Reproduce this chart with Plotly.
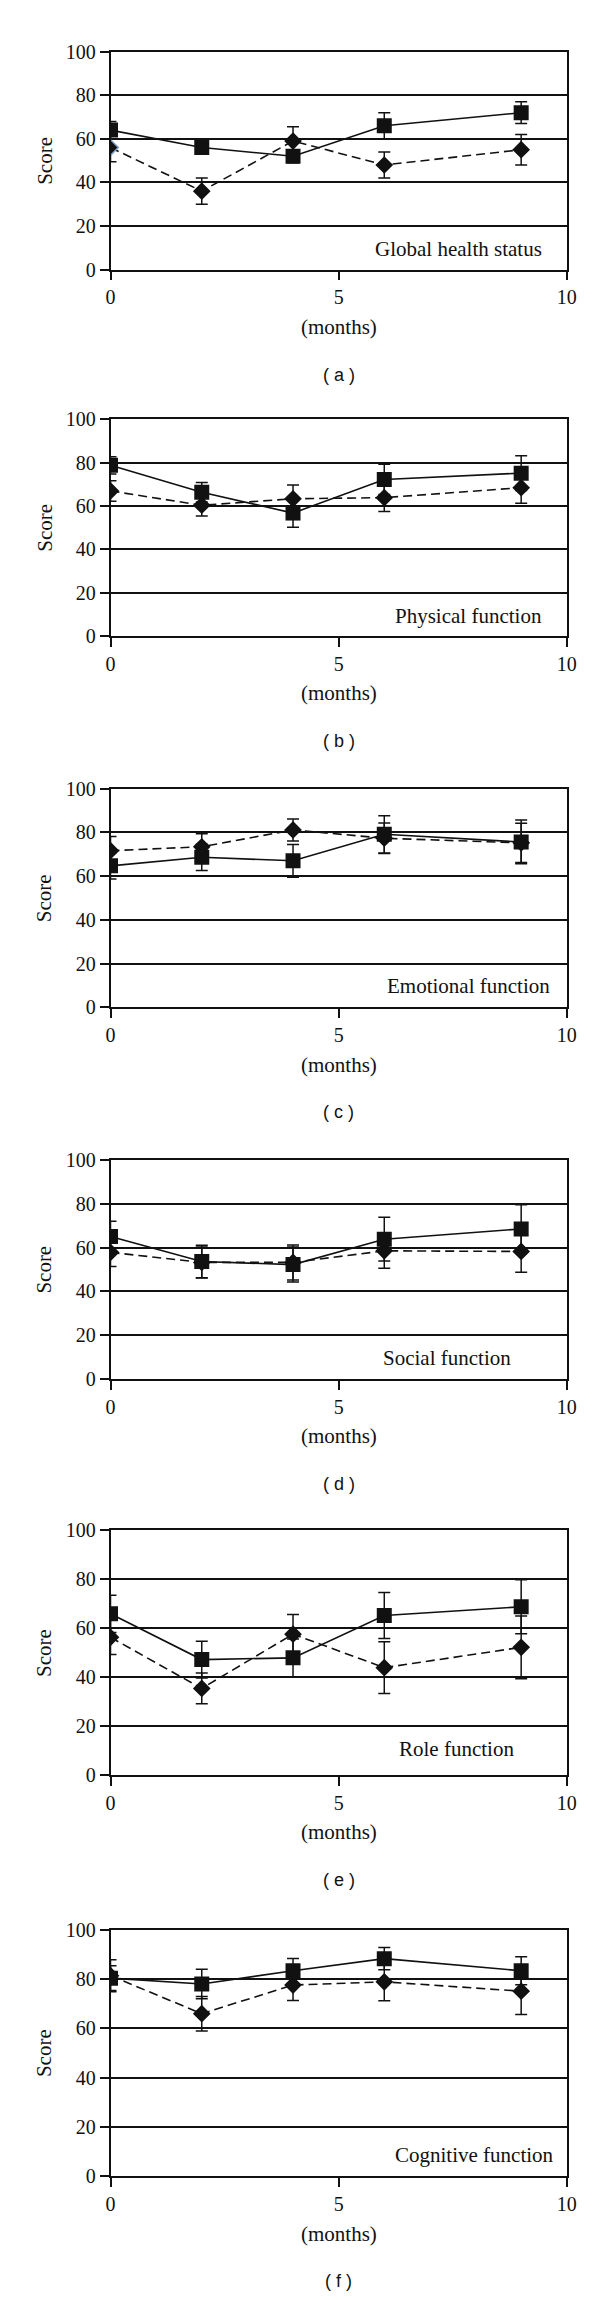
import plotly.graph_objects as go

# ---------------- data ----------------
months = [0, 2, 4, 6, 9]

panel_titles = ["Global health status", "Physical function", "Emotional function",
                "Social function", "Role function", "Cognitive function"]
panel_letters = ["( a )", "( b )", "( c )", "( d )", "( e )", "( f )"]

# squares (solid line)
sq_global = [64, 56, 52, 66, 72]
sq_global_err = [4, 3, 3, 6, 5]
sq_physical = [78.7, 66.3, 56.7, 72.2, 75.1]
sq_physical_err = [4, 4.5, 6.5, 7, 8]
sq_emotional = [64.7, 68.6, 67, 79.1, 75.6]
sq_emotional_err = [6, 6, 7.5, 8.5, 10]
sq_social = [65, 53.6, 52.2, 63.8, 68.5]
sq_social_err = [7, 7.5, 8, 10, 11]
sq_role = [65.9, 47.2, 47.9, 65.2, 68.8]
sq_role_err = [7.6, 7.5, 7.7, 9.4, 11]
sq_cognitive = [80.3, 77.9, 83.3, 88.2, 83.3]
sq_cognitive_err = [5, 6, 5, 4.5, 5.7]

# diamonds (dashed line)
di_global = [56, 36, 59, 48, 55]
di_global_err = [6.5, 6, 6.5, 6, 7]
di_physical = [66.9, 60.3, 63.3, 63.8, 68.4]
di_physical_err = [4.7, 5, 6.3, 6.4, 7.2]
di_emotional = [71.6, 73.4, 81.1, 77.3, 75.2]
di_emotional_err = [6.5, 6, 5, 7, 9]
di_social = [57.8, 53.2, 53.2, 58.5, 58.2]
di_social_err = [6.5, 7, 8, 8, 9.5]
di_role = [56.3, 35.4, 57.6, 43.9, 52.2]
di_role_err = [7, 6.3, 8, 10.6, 12.8]
di_cognitive = [81.3, 65.9, 77.5, 78.8, 75]
di_cognitive_err = [6.5, 7, 6.3, 7.7, 9.4]

y_ticks = [0, 20, 40, 60, 80, 100]
x_ticks = [0, 5, 10]

squares = [sq_global, sq_physical, sq_emotional, sq_social, sq_role, sq_cognitive]
squares_err = [sq_global_err, sq_physical_err, sq_emotional_err, sq_social_err,
               sq_role_err, sq_cognitive_err]
diamonds = [di_global, di_physical, di_emotional, di_social, di_role, di_cognitive]
diamonds_err = [di_global_err, di_physical_err, di_emotional_err, di_social_err,
                di_role_err, di_cognitive_err]

# label positions inside plots (data coords)
label_x = [9.5, 9.5, 9.67, 8.83, 8.88, 9.77]
label_y = [9.5, 9.4, 9.8, 9.5, 10.8, 8.7]

# ---------------- layout (pixels) ----------------
W, H = 600, 2300
X0, X1 = 100, 568
panel_px = [(33, 253), (404, 623), (777, 998), (1152, 1373), (1526, 1773), (1929, 2178)]

SERIF = "Liberation Serif"
SANS = "Liberation Sans"
INK = "#111111"

fig = go.Figure()
layout = dict(
    width=W, height=H,
    margin=dict(l=0, r=0, t=0, b=0),
    paper_bgcolor="white", plot_bgcolor="white",
    showlegend=False,
    annotations=[],
)

def py(p):
    return 1 - p / H

for i in range(6):
    n = "" if i == 0 else str(i + 1)
    top, bot = panel_px[i]
    xa = "x" + n
    ya = "y" + n

    # diamonds first (dashed)
    line_cols = [INK] * 5
    if i == 0:
        line_cols[0] = "#7d9cc8"
    fig.add_trace(go.Scatter(
        x=months, y=diamonds[i], xaxis=xa, yaxis=ya, mode="lines+markers",
        line=dict(color=INK, width=1.6, dash="9px,5px"),
        marker=dict(symbol="diamond", size=12, color=INK,
                    line=dict(color=line_cols, width=1.5)),
        error_y=dict(type="data", array=diamonds_err[i], visible=True,
                     color=INK, thickness=1.5, width=6),
    ))
    fig.add_trace(go.Scatter(
        x=months, y=squares[i], xaxis=xa, yaxis=ya, mode="lines+markers",
        line=dict(color=INK, width=1.6),
        marker=dict(symbol="square", size=15, color=INK, line=dict(width=0)),
        error_y=dict(type="data", array=squares_err[i], visible=True,
                     color=INK, thickness=1.5, width=6),
    ))

    layout["xaxis" + n] = dict(
        domain=[X0 / W, X1 / W], anchor=ya, range=[0, 10],
        tickmode="array", tickvals=x_ticks, ticktext=[str(v) for v in x_ticks],
        ticks="outside", ticklen=9, tickwidth=1.6, tickcolor=INK,
        showline=True, linecolor=INK, linewidth=1.6, mirror=True,
        showgrid=False, zeroline=False,
        tickfont=dict(family=SERIF, size=20, color=INK),
    )
    layout["yaxis" + n] = dict(
        domain=[py(bot), py(top)], anchor=xa, range=[0, 100],
        tickmode="array", tickvals=y_ticks, ticktext=[str(v) for v in y_ticks],
        ticks="outside", ticklen=9, tickwidth=1.6, tickcolor=INK,
        showline=True, linecolor=INK, linewidth=1.6, mirror=True,
        showgrid=True, gridcolor=INK, gridwidth=1.6, zeroline=False,
        tickfont=dict(family=SERIF, size=20, color=INK),
    )

    ann = layout["annotations"]
    ann.append(dict(x=label_x[i], y=label_y[i], xref=xa, yref=ya,
                    text=panel_titles[i], showarrow=False,
                    xanchor="right", yanchor="middle",
                    font=dict(family=SERIF, size=21, color=INK)))
    ann.append(dict(x=32 / W, y=py((top + bot) / 2), xref="paper", yref="paper",
                    text="Score", textangle=-90, showarrow=False,
                    xanchor="center", yanchor="middle",
                    font=dict(family=SERIF, size=21, color=INK)))
    ann.append(dict(x=(X0 + X1) / 2 / W, y=py(bot + 58), xref="paper", yref="paper",
                    text="(months)", showarrow=False,
                    xanchor="center", yanchor="middle",
                    font=dict(family=SERIF, size=21, color=INK)))
    ann.append(dict(x=(X0 + X1) / 2 / W, y=py(bot + 106), xref="paper", yref="paper",
                    text=panel_letters[i], showarrow=False,
                    xanchor="center", yanchor="middle",
                    font=dict(family=SANS, size=18, color=INK)))

fig.update_layout(**layout)
fig.write_html("out.html")
